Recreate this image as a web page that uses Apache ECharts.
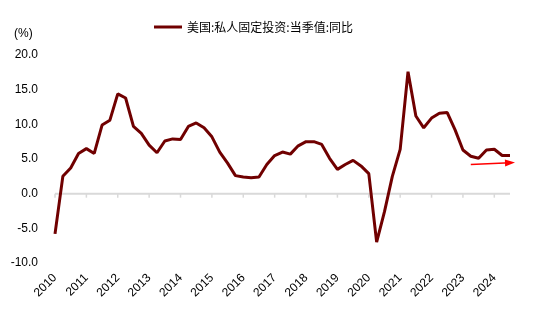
<!DOCTYPE html>
<html>
<head>
<meta charset="utf-8">
<script src="https://cdn.jsdelivr.net/npm/echarts@6/dist/echarts.min.js"></script>
<style>
  html, body { margin: 0; padding: 0; background: #fff; }
  #chart { width: 547px; height: 328px; }
</style>
</head>
<body>
<div id="chart"></div>
<script>
// Quarterly YoY growth of US private fixed investment, 2010Q1 - 2024Q3
const years = ['2010','2011','2012','2013','2014','2015','2016','2017','2018','2019','2020','2021','2022','2023','2024'];
const quarters = [];
years.forEach(y => { for (let q = 1; q <= 4; q++) quarters.push(y + 'Q' + q); });
const seriesName = '美国:私人固定投资:当季值:同比';
const yoyValues = [
  -5.8, 2.5, 3.7, 5.8,
  6.5, 5.8, 9.9, 10.6,
  14.4, 13.8, 9.7, 8.7,
  7.0, 5.9, 7.6, 7.9,
  7.8, 9.7, 10.2, 9.5,
  8.2, 6.0, 4.4, 2.6,
  2.4, 2.3, 2.4, 4.2,
  5.5, 6.0, 5.7, 6.9,
  7.5, 7.5, 7.1, 5.1,
  3.5, 4.2, 4.8, 4.0,
  2.9, -7.0, -2.6, 2.5,
  6.4, 17.6, 11.2, 9.5,
  10.9, 11.6, 11.7, 9.2,
  6.3, 5.4, 5.1, 6.3,
  6.4, 5.5, 5.5
];
const categories = quarters.slice(0, yoyValues.length);
const yTicks = { min: -10, max: 20, interval: 5 };
// Trend arrow endpoints: [quarter index, value]
const trendArrow = [[53, 4.2], [58, 4.45]];

const font = '"Liberation Sans", Arial, sans-serif';
const chart = echarts.init(document.getElementById('chart'), null, { renderer: 'canvas' });
const isYearStart = (i) => i % 4 === 0;

chart.setOption({
  animation: false,
  backgroundColor: '#fff',
  title: {
    text: '(%)', left: 9, top: 23,
    textStyle: { fontSize: 12, fontWeight: 'normal', color: '#000', fontFamily: font }
  },
  legend: {
    left: 149, top: 16,
    itemWidth: 28, itemHeight: 3, itemGap: 4,
    icon: 'rect',
    textStyle: { fontSize: 12, color: '#000', fontFamily: '"Noto Sans CJK SC", sans-serif' },
    data: [seriesName]
  },
  grid: { left: 55, right: 37, top: 55, bottom: 65, containLabel: false },
  xAxis: {
    type: 'category', data: categories, boundaryGap: false, position: 'bottom',
    axisLine: { show: false, onZero: false },
    axisTick: { show: false },
    axisLabel: {
      interval: (i) => isYearStart(i),
      formatter: (v) => v.slice(0, 4),
      rotate: 45, margin: 13,
      fontSize: 12, color: '#000', fontFamily: font
    },
    splitLine: { show: false }
  },
  yAxis: {
    type: 'value', min: yTicks.min, max: yTicks.max, interval: yTicks.interval,
    axisLine: { show: false }, axisTick: { show: false }, splitLine: { show: false },
    axisLabel: { formatter: (v) => v.toFixed(1), fontSize: 12, color: '#000', fontFamily: font, margin: 17 }
  },
  series: [{
    name: seriesName,
    type: 'line',
    data: yoyValues,
    symbol: 'none',
    z: 3,
    lineStyle: { color: '#700000', width: 3 },
    itemStyle: { color: '#700000' },
    markLine: {
      silent: true,
      symbol: ['none', 'triangle'],
      symbolSize: [7, 10],
      label: { show: false },
      emphasis: { disabled: true },
      lineStyle: { color: '#ff0000', width: 1.5, type: 'solid' },
      data: [[{ coord: trendArrow[0] }, { coord: trendArrow[1] }]]
    }
  }]
});

// Zero baseline with a short tick at each year start, placed through the chart's own scales
const toPx = (pt) => chart.convertToPixel({ xAxisIndex: 0, yAxisIndex: 0 }, pt);
const baseStart = toPx([0, 0]);
const baseEnd = toPx([categories.length - 1, 0]);
const axisGray = '#d9d9d9';
const baseline = [{
  type: 'line', z: 1, silent: true,
  shape: { x1: baseStart[0], y1: baseStart[1], x2: baseEnd[0], y2: baseEnd[1] },
  style: { stroke: axisGray, lineWidth: 2 }
}];
categories.forEach((c, i) => {
  if (isYearStart(i)) {
    const p = toPx([i, 0]);
    baseline.push({
      type: 'line', z: 1, silent: true,
      shape: { x1: p[0], y1: p[1], x2: p[0], y2: p[1] + 4 },
      style: { stroke: axisGray, lineWidth: 1.5 }
    });
  }
});
chart.setOption({ graphic: baseline });
</script>
</body>
</html>
